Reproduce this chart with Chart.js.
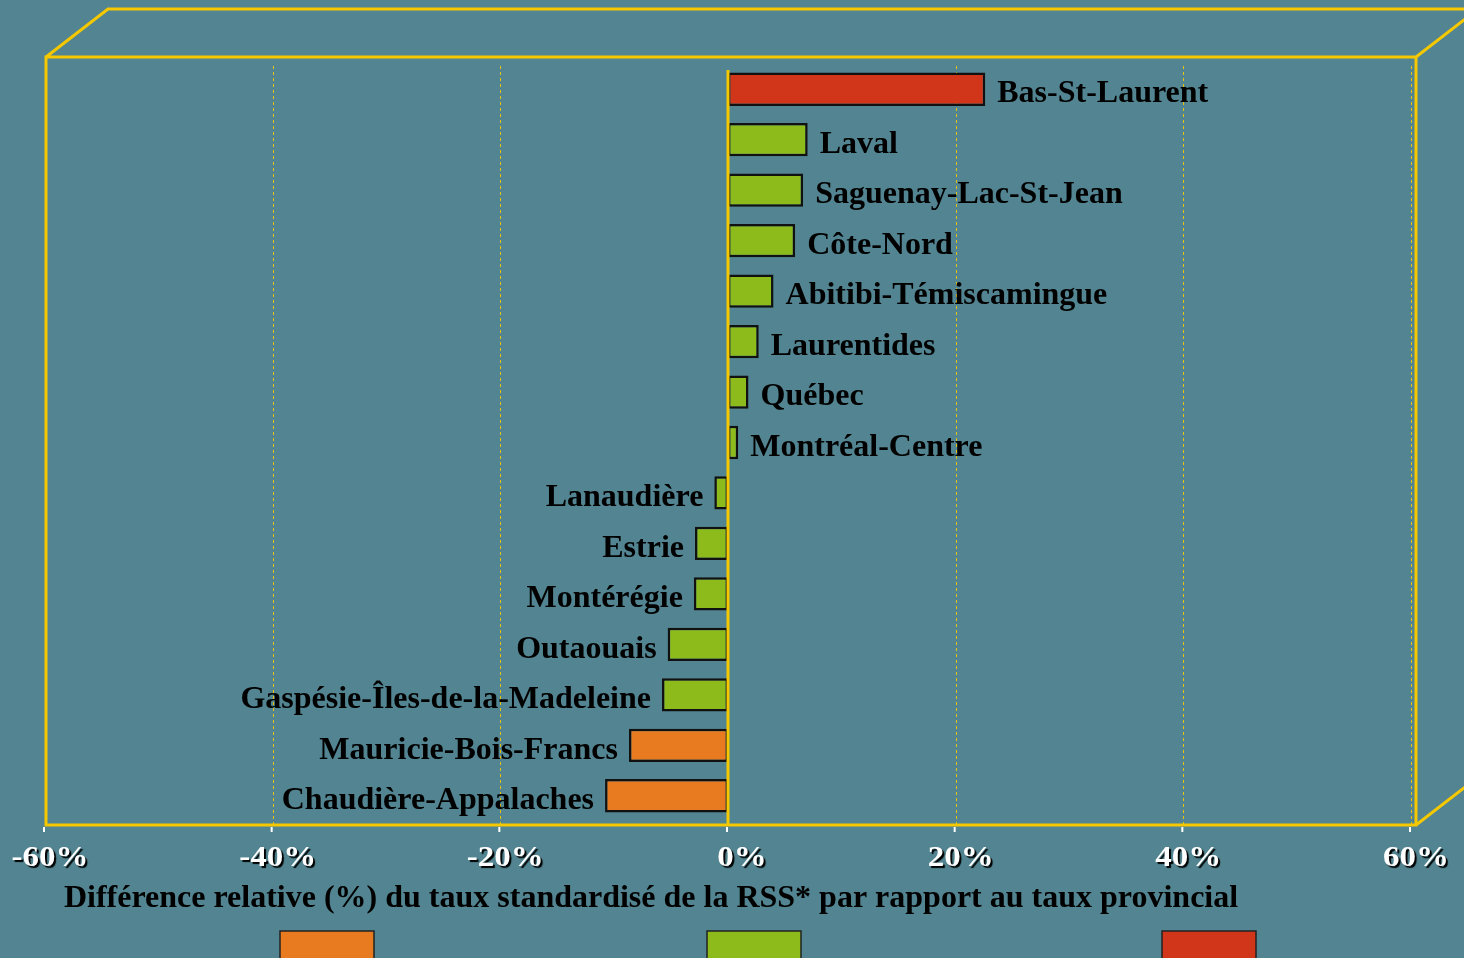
<!DOCTYPE html>
<html>
<head>
<meta charset="utf-8">
<script src="https://cdn.jsdelivr.net/npm/chart.js@4"></script>
<style>
  html, body { margin: 0; padding: 0; background: #528591; }
  canvas { display: block; }
</style>
</head>
<body>
<canvas id="rssChart" width="1464" height="958"></canvas>
<script>
// données
const regions = ['Bas-St-Laurent', 'Laval', 'Saguenay-Lac-St-Jean', 'Côte-Nord', 'Abitibi-Témiscamingue',
  'Laurentides', 'Québec', 'Montréal-Centre', 'Lanaudière', 'Estrie', 'Montérégie', 'Outaouais',
  'Gaspésie-Îles-de-la-Madeleine', 'Mauricie-Bois-Francs', 'Chaudière-Appalaches'];
const diffPct = [22.6, 7.0, 6.6, 5.9, 4.0, 2.7, 1.8, 0.9, -1.2, -2.9, -3.0, -5.3, -5.8, -8.7, -10.8];
const groupe = ['haut', 'moyen', 'moyen', 'moyen', 'moyen', 'moyen', 'moyen', 'moyen',
  'moyen', 'moyen', 'moyen', 'moyen', 'moyen', 'bas', 'bas'];
const legendGroups = ['bas', 'moyen', 'haut'];
const tickValues = [-60, -40, -20, 0, 20, 40, 60];
const axisTitle = 'Différence relative (%) du taux standardisé de la RSS* par rapport au taux provincial';

const couleurs = { bas: '#E87B1F', moyen: '#8DBB1B', haut: '#D1361A' };
const jaune = '#F5C800';
const police = 'bold 32px "Liberation Serif", "Times New Roman", serif';
const policeTicks = 'bold 30px "Liberation Serif", "Times New Roman", serif';

const decor = {
  id: 'decor',
  beforeDraw(chart) {
    const { ctx } = chart;
    const x = chart.scales.x;
    const L = x.getPixelForValue(-60) + 1, R = x.getPixelForValue(60) + 5;
    const T = 57, B = 825, dx = 62, dy = -48;
    ctx.save();
    ctx.fillStyle = '#528591';
    ctx.fillRect(0, 0, chart.width, chart.height);

    // grille pointillée
    ctx.strokeStyle = '#E8C20A';
    ctx.lineWidth = 1;
    ctx.setLineDash([3, 3]);
    tickValues.forEach(v => {
      if (v === 0 || v === -60) return;
      const px = Math.round(x.getPixelForValue(v)) + 0.5;
      ctx.beginPath();
      ctx.moveTo(px, 66);
      ctx.lineTo(px, B);
      ctx.stroke();
    });
    ctx.setLineDash([]);

    // boîte 3D
    ctx.strokeStyle = jaune;
    ctx.lineWidth = 3;
    ctx.beginPath();
    ctx.rect(L, T, R - L, B - T);
    ctx.moveTo(L, T); ctx.lineTo(L + dx, T + dy); ctx.lineTo(R + dx, T + dy);
    ctx.moveTo(R, T); ctx.lineTo(R + dx, T + dy);
    ctx.moveTo(R, B); ctx.lineTo(R + dx, B + dy);
    ctx.stroke();
    ctx.restore();
  },
  afterDatasetsDraw(chart) {
    const { ctx } = chart;
    const x = chart.scales.x, y = chart.scales.y;
    const x0 = x.getPixelForValue(0);
    ctx.save();

    // ligne du zéro
    ctx.strokeStyle = jaune;
    ctx.lineWidth = 3;
    ctx.beginPath();
    ctx.moveTo(x0, 70);
    ctx.lineTo(x0, 825);
    ctx.stroke();

    // étiquettes des barres
    ctx.font = police;
    ctx.fillStyle = '#000';
    ctx.textBaseline = 'middle';
    regions.forEach((nom, i) => {
      const v = diffPct[i];
      const px = x.getPixelForValue(v);
      const py = y.getPixelForValue(i) + 5;
      if (v >= 0) {
        ctx.textAlign = 'left';
        ctx.fillText(nom, px + 12, py);
      } else {
        ctx.textAlign = 'right';
        ctx.fillText(nom, px - 11, py);
      }
    });

    // graduations
    ctx.font = policeTicks;
    tickValues.forEach(v => {
      const px = x.getPixelForValue(v);
      ctx.fillStyle = '#fff';
      ctx.fillRect(px - 2, 827, 2, 5);
      ctx.save();
      ctx.translate(px + (v === 0 ? 14 : 5), 858);
      ctx.scale(1.1, 1);
      ctx.shadowColor = '#000';
      ctx.shadowOffsetX = 2;
      ctx.shadowOffsetY = 2;
      ctx.shadowBlur = 1;
      ctx.textAlign = 'center';
      ctx.textBaseline = 'middle';
      ctx.fillText(v + '%', 0, 0);
      ctx.restore();
    });

    // titre de l'axe
    ctx.font = police;
    ctx.fillStyle = '#000';
    ctx.textAlign = 'center';
    ctx.textBaseline = 'middle';
    ctx.fillText(axisTitle, 651, 899);

    // légende (cases)
    const legX = [280, 707, 1162];
    legendGroups.forEach((g, i) => {
      ctx.fillStyle = couleurs[g];
      ctx.fillRect(legX[i], 931, 94, 30);
      ctx.strokeStyle = '#222';
      ctx.lineWidth = 1.5;
      ctx.strokeRect(legX[i], 931, 94, 30);
    });
    ctx.restore();
  }
};

new Chart(document.getElementById('rssChart'), {
  type: 'bar',
  data: {
    labels: regions,
    datasets: [{
      data: diffPct,
      backgroundColor: groupe.map(g => couleurs[g]),
      borderColor: '#111',
      borderWidth: 2.5,
      borderSkipped: false,
      categoryPercentage: 1,
      barPercentage: 0.66
    }]
  },
  options: {
    indexAxis: 'y',
    responsive: false,
    animation: false,
    layout: { padding: { left: 45, right: 53, top: 64, bottom: 137 } },
    plugins: { legend: { display: false }, tooltip: { enabled: false } },
    scales: {
      x: { display: false, min: -60, max: 60, ticks: { stepSize: 20 } },
      y: { display: false }
    }
  },
  plugins: [decor]
});
</script>
</body>
</html>
